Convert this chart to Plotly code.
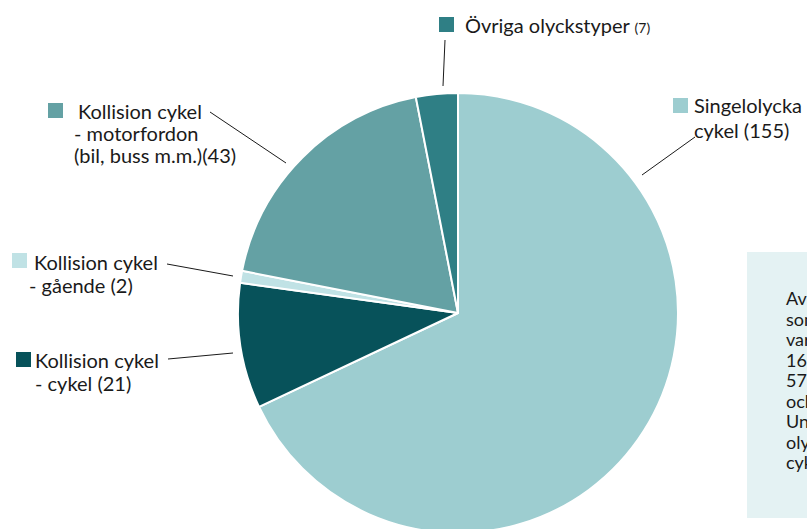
import plotly.graph_objects as go

# ---- data ----
categories = ["Singelolycka cykel", "Kollision cykel - cykel", "Kollision cykel - gående",
              "Kollision cykel - motorfordon (bil, buss m.m.)", "Övriga olyckstyper"]
values = [155, 21, 2, 43, 7]
colors = ["#9dcdd0", "#07525a", "#c0e2e5", "#64a1a4", "#2f7f85"]
info_lines = ["Av de skadade cyklisterna", "som vårdades på sjukhus", "var 68 procent",
              "16 till 24 år och", "57 procent män", "och 43 procent kvinnor.",
              "Ungefär två tredjedelar av", "olyckorna var singel-", "cykelolyckor."]

W, H = 807, 560  # figure taller than window; bottom is cropped like the reference
FONT = "Lato"
FS = 20
PAD = 3  # annotation inner padding

def px(x):
    return x / W

def py(y):
    return (H - y) / H

cx, cy, r = 458, 313, 220

fig = go.Figure()
fig.add_trace(go.Pie(
    labels=categories, values=values, sort=False, direction="clockwise", rotation=0,
    marker=dict(colors=colors, line=dict(color="white", width=2)),
    textinfo="none", hoverinfo="label+value", showlegend=False,
    domain=dict(x=[px(cx - r), px(cx + r)], y=[py(cy + r), py(cy - r)]),
))

shapes = []
annotations = []

def square(x0, y0, color, size=15):
    shapes.append(dict(type="rect", xref="paper", yref="paper",
                       x0=px(x0), x1=px(x0 + size), y0=py(y0 + size), y1=py(y0),
                       fillcolor=color, line=dict(width=0), layer="above"))

def leader(x0, y0, x1, y1):
    shapes.append(dict(type="line", xref="paper", yref="paper",
                       x0=px(x0), y0=py(y0), x1=px(x1), y1=py(y1),
                       line=dict(color="#1a1a1a", width=1), layer="above"))

def label(x, y, text, size=FS):
    annotations.append(dict(x=px(x - PAD), y=py(y), xref="paper", yref="paper", text=text,
                            showarrow=False, xanchor="left", yanchor="middle", align="left",
                            font=dict(family=FONT, size=size, color="#1a1a1a")))

# info box on the right (cropped)
shapes.append(dict(type="rect", xref="paper", yref="paper",
                   x0=px(747), x1=px(1000), y0=py(518), y1=py(252),
                   fillcolor="#e4f2f3", line=dict(width=0), layer="below"))

# Singelolycka
square(673, 98, colors[0])
label(695, 105, "Singelolycka")
label(695, 130, "cykel (155)")
leader(642, 175, 695, 137)

# Övriga
square(439, 17, colors[4])
label(466, 25, "Övriga olyckstyper <span style='font-size:14px'>(7)</span>")
leader(443, 86, 445, 40)

# Motorfordon
square(48, 103, colors[3])
label(79, 111, "Kollision cykel")
label(75, 133, "- motorfordon")
label(75, 155, "(bil, buss m.m.)(43)")
leader(210, 112, 286, 163)

# Gående
square(12, 253, colors[2])
label(35, 262, "Kollision cykel")
label(30, 285, "- gående (2)")
leader(167, 264, 233, 276)

# Cykel
square(16, 352, colors[1])
label(36, 360, "Kollision cykel")
label(36, 383, "- cykel (21)")
leader(168, 359, 233, 353)

# info text (one annotation per line)
for i, line in enumerate(info_lines):
    label(787, 298 + i * 20.5, line, size=18)

fig.update_layout(
    width=W, height=H, margin=dict(l=0, r=0, t=0, b=0),
    paper_bgcolor="white", plot_bgcolor="white",
    shapes=shapes, annotations=annotations,
)

fig.write_html("out.html", config={"displayModeBar": False},
               post_script="document.body.style.margin='0';document.body.style.overflow='hidden';document.documentElement.style.overflow='hidden';")
